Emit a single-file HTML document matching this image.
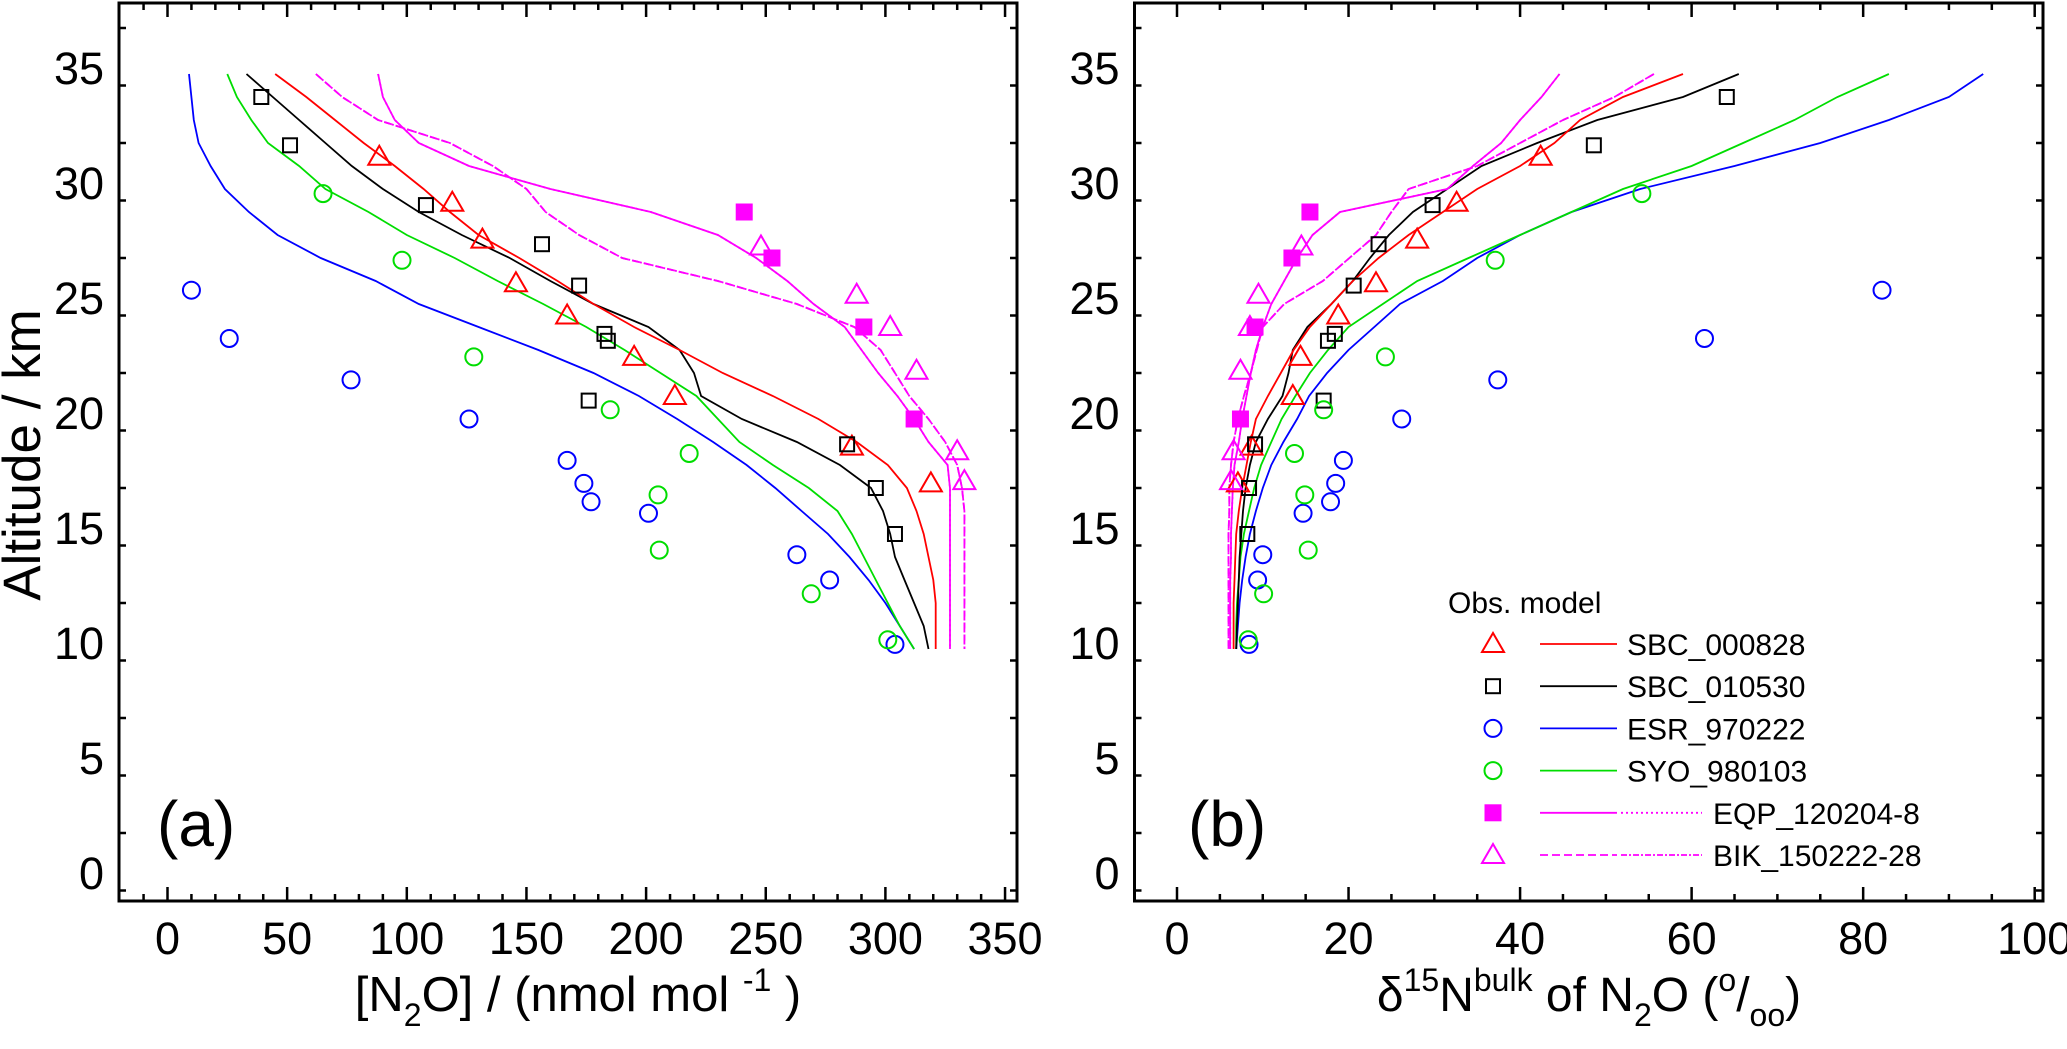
<!DOCTYPE html>
<html><head><meta charset="utf-8">
<style>
html,body{margin:0;padding:0;background:#fff;}
svg{display:block;font-family:"Liberation Sans",Arial,sans-serif;}
</style></head>
<body>
<svg id="chart" width="2067" height="1049" viewBox="0 0 2067 1049" xmlns="http://www.w3.org/2000/svg">
  <text x="0" y="0" transform="translate(40,455) rotate(-90)" text-anchor="middle" font-size="53">Altitude / km</text>
  <text x="578" y="1011" text-anchor="middle" font-size="49">[N<tspan font-size="32" dy="15">2</tspan><tspan dy="-15">O] / (nmol mol </tspan><tspan font-size="32" dy="-20">-1</tspan><tspan dy="20"> )</tspan></text>
  <text x="1589" y="1011" text-anchor="middle" font-size="48">δ<tspan font-size="32" dy="-20">15</tspan><tspan dy="20">N</tspan><tspan font-size="32" dy="-20">bulk</tspan><tspan dy="20"> of N</tspan><tspan font-size="32" dy="15">2</tspan><tspan dy="-15">O  (</tspan><tspan font-size="32" dy="-20">o</tspan><tspan dy="20">/</tspan><tspan font-size="32" dy="15">oo</tspan><tspan dy="-15">)</tspan></text>
  <text x="157" y="846" font-size="64">(a)</text>
  <text x="1188" y="846" font-size="64">(b)</text>
  <g id="legend" font-size="30">
    <text x="1448" y="613">Obs.  model</text>
  </g>
</svg>
<script>
// ---- data ----
const alts = [35,34,33,32,31,30,29,28,27,26,25,24,23,22,21,20,19,18,17,16,15,14,13,12,11,10];
// panel a model [N2O]
const aSBC000828 = [45,58,70,82,95,107,118,130,147,163,178,195,214,232,253,272,288,301,309,313,316,318,320,321,321,321];
const aSBC010530 = [33,44,55,66,77,90,105,123,143,160,178,201,214,220,223,240,263,281,294,299,302,304,308,312,316,318];
const aESR970222 = [9,10,11,13,18,24,34,46,64,87,105,130,155,178,197,213,228,242,254,265,276,285,293,300,306,312];
const aSYO980103 = [25,29,35,42,55,66,84,100,120,138,157,175,191,206,221,230,239,253,268,280,286,291,296,301,306,312];
const aEQP = [88,90,95,105,126,160,202,230,246,259,270,283,290,297,305,312,318,326,327,327,327,327,327,327,327,327];
const aBIK = [62,73,88,118,136,150,158,172,190,230,263,287,298,304,310,318,325,330,332,333,333,333,333,333,333,333];
// panel b model d15N
const bSBC000828 = [59,52,47,44,40,35,31,27,23.5,20.5,18,15.5,13.6,12.1,10.6,9.2,8.6,8.1,7.6,7.2,6.9,6.8,6.7,6.6,6.6,6.6];
const bSBC010530 = [65.5,59,49,42,35.5,31.5,27.5,24.7,22.5,20.5,18,15.2,13.5,13,12.3,10.6,9.2,8.5,8,7.7,7.5,7.3,7.2,7.1,7.0,6.9];
const bESR970222 = [94,90,83,75,65,54,46,40,35,31,26,23,20,17.5,15.4,14,12.4,11,10,9.2,8.5,8,7.6,7.3,7.1,6.9];
const bSYO980103 = [83,77,72,66,60,52,46,40,34,28,24,20,17.6,15.5,13.8,12.2,11,9.8,9,8.4,7.8,7.4,7.2,7.0,6.9,6.9];
const bEQP = [44.6,42.5,40,37.8,34.5,31.5,19,15.8,14,12.5,11,10,9.2,8.6,8.1,7.6,7.2,6.7,6.5,6.4,6.3,6.3,6.2,6.2,6.2,6.2];
const bBIK = [55.6,51,45,40,35,27,25,23.2,20.1,17,12.5,10,9.3,8.6,7.8,7.1,6.6,6.3,6.1,6.1,6.0,6.0,6.0,6.0,6.0,6.0];
// observations
const obsSBC000828Alt = [31.4,29.4,27.8,25.9,24.5,22.7,21.0,18.8,17.2];
const obsSBC000828A = [88.5,119,131.6,145.6,167,195,212,286,319];
const obsSBC000828B = [42.4,32.6,28,23.2,18.8,14.4,13.5,8.7,7.1];
const obsSBC010530Alt = [34.0,31.9,29.3,27.6,25.8,23.7,23.4,20.8,18.9,17.0,15.0];
const obsSBC010530A = [39.2,51.2,108,156.5,172,182.6,184,176,284,296,304];
const obsSBC010530B = [64.1,48.6,29.8,23.5,20.6,18.4,17.6,17.1,9.1,8.4,8.2];
const obsESR970222Alt = [25.6,23.5,21.7,20.0,18.2,17.2,16.4,15.9,14.1,13.0,10.2];
const obsESR970222A = [10,25.8,76.7,126,167,174,177,201,263,276.7,304];
const obsESR970222B = [82.2,61.5,37.4,26.2,19.4,18.5,17.9,14.7,10,9.4,8.4];
const obsSYO980103Alt = [29.8,26.9,22.7,20.4,18.5,16.7,14.3,12.4,10.4];
const obsSYO980103A = [65,98,128,185,218,205,205.5,269,301];
const obsSYO980103B = [54.2,37.1,24.3,17.1,13.7,14.9,15.3,10.1,8.3];
const obsEQPAlt = [29.0,27.0,24.0,20.0];
const obsEQPA = [241,252.6,291,312];
const obsEQPB = [15.5,13.4,9.1,7.4];
const obsBIKAlt = [27.5,25.4,24.0,22.1,18.6,17.3];
const obsBIKA = [248,288,302,313,330,333];
const obsBIKB = [14.5,9.5,8.5,7.4,6.6,6.3];
const yTicks = [0,5,10,15,20,25,30,35];
const xTicksA = [0,50,100,150,200,250,300,350];
const xTicksB = [0,20,40,60,80,100];

const NS = "http://www.w3.org/2000/svg";
const svg = document.getElementById('chart');
function el(tag, attrs, parent){const e=document.createElementNS(NS,tag);for(const k in attrs)e.setAttribute(k,attrs[k]);(parent||svg).appendChild(e);return e;}

const yScale = a => 879 - a*23.0;
const pa = {left:119,right:1017,top:3,bottom:901,x:v=>167.5+v*2.393,minor:10,ticks:xTicksA,name:'a'};
const pb = {left:1134.5,right:2043,top:3,bottom:901,x:v=>1177+v*8.577,minor:5,ticks:xTicksB,name:'b'};

const RED='#ff0000',BLK='#000000',BLU='#0000ff',GRN='#00dd00',MAG='#ff00ff';

function drawAxes(p){
  const g=el('g',{});
  
  
  const fr=el('rect',{x:p.left,y:p.top,width:p.right-p.left,height:p.bottom-p.top,fill:'none',stroke:'#000','stroke-width':3},g);
  
  
  for(let a=-0.5;a<=38;a+=2.5){
    const y=yScale(a); if(y<p.top+2||y>p.bottom-2) continue;
    const major = Math.abs(a%5)<1e-6; const L=major?14:7;
    el('line',{x1:p.left,x2:p.left+L,y1:y,y2:y,stroke:'#000','stroke-width':2.5},g);
    el('line',{x1:p.right,x2:p.right-L,y1:y,y2:y,stroke:'#000','stroke-width':2.5},g);
  }
  const lo=p.name==='a'?-20:-5, hi=p.name==='a'?360:105;
  for(let v=lo;v<=hi;v+=p.minor){
    const x=p.x(v); if(x<p.left+2||x>p.right-2) continue;
    const major = p.ticks.includes(v); const L=major?14:7;
    el('line',{x1:x,x2:x,y1:p.bottom,y2:p.bottom-L,stroke:'#000','stroke-width':2.5},g);
    el('line',{x1:x,x2:x,y1:p.top,y2:p.top+L,stroke:'#000','stroke-width':2.5},g);
  }
  yTicks.forEach(t=>{
    const tx=el('text',{x:p.left-15,y:yScale(t)+10,'text-anchor':'end','font-size':45},g);
    
    
    tx.textContent=t;
  });
  p.ticks.forEach(t=>{
    const tx=el('text',{x:p.x(t),y:954,'text-anchor':'middle','font-size':45},g);
    
    
    tx.textContent=t;
  });
}
function drawLine(p,vals,color,dash,name){
  const pts=vals.map((v,i)=>p.x(v).toFixed(1)+','+yScale(alts[i]).toFixed(1)).join(' ');
  const l=el('polyline',{points:pts,fill:'none',stroke:color,'stroke-width':1.8});
  if(dash) l.setAttribute('stroke-dasharray',dash);
  
  
}
function marker(x,y,type,color,parent){
  let m;
  if(type==='tri') m=el('polygon',{points:`${x},${y-11} ${x-11},${y+8} ${x+11},${y+8}`,fill:'none',stroke:color,'stroke-width':2},parent);
  else if(type==='sq') m=el('rect',{x:x-7,y:y-7,width:14,height:14,fill:'none',stroke:color,'stroke-width':2},parent);
  else if(type==='fsq') m=el('rect',{x:x-8,y:y-8,width:16,height:16,fill:color,stroke:color,'stroke-width':1},parent);
  else m=el('circle',{cx:x,cy:y,r:8.5,fill:'none',stroke:color,'stroke-width':2},parent);
  return m;
}
function drawObs(p,xs,as,type,color,name){
  const g=el('g',{});
  
  
  xs.forEach((v,i)=>{
    const m=marker(p.x(v),yScale(as[i]),type,color,g);
    
    
  });
}
drawAxes(pa); drawAxes(pb);

drawLine(pa,aESR970222,BLU,null,'model-esr-970222-a');
drawLine(pa,aSYO980103,GRN,null,'model-syo-980103-a');
drawLine(pa,aSBC010530,BLK,null,'model-sbc-010530-a');
drawLine(pa,aSBC000828,RED,null,'model-sbc-000828-a');
drawLine(pa,aEQP,MAG,null,'model-eqp-a');
drawLine(pa,aEQP,MAG,'2,3','model-eqp-dotted-a');
drawLine(pa,aBIK,MAG,'8,4','model-bik-dashed-a');
drawLine(pa,aBIK,MAG,'6,2,2,2','model-bik-dashdot-a');

drawLine(pb,bESR970222,BLU,null,'model-esr-970222-b');
drawLine(pb,bSYO980103,GRN,null,'model-syo-980103-b');
drawLine(pb,bSBC010530,BLK,null,'model-sbc-010530-b');
drawLine(pb,bSBC000828,RED,null,'model-sbc-000828-b');
drawLine(pb,bEQP,MAG,null,'model-eqp-b');
drawLine(pb,bEQP,MAG,'2,3','model-eqp-dotted-b');
drawLine(pb,bBIK,MAG,'8,4','model-bik-dashed-b');
drawLine(pb,bBIK,MAG,'6,2,2,2','model-bik-dashdot-b');

drawObs(pa,obsSBC000828A,obsSBC000828Alt,'tri',RED,'obs-sbc-000828-a');
drawObs(pa,obsSBC010530A,obsSBC010530Alt,'sq',BLK,'obs-sbc-010530-a');
drawObs(pa,obsESR970222A,obsESR970222Alt,'circ',BLU,'obs-esr-970222-a');
drawObs(pa,obsSYO980103A,obsSYO980103Alt,'circ',GRN,'obs-syo-980103-a');
drawObs(pa,obsEQPA,obsEQPAlt,'fsq',MAG,'obs-eqp-a');
drawObs(pa,obsBIKA,obsBIKAlt,'tri',MAG,'obs-bik-a');
drawObs(pb,obsSBC000828B,obsSBC000828Alt,'tri',RED,'obs-sbc-000828-b');
drawObs(pb,obsSBC010530B,obsSBC010530Alt,'sq',BLK,'obs-sbc-010530-b');
drawObs(pb,obsESR970222B,obsESR970222Alt,'circ',BLU,'obs-esr-970222-b');
drawObs(pb,obsSYO980103B,obsSYO980103Alt,'circ',GRN,'obs-syo-980103-b');
drawObs(pb,obsEQPB,obsEQPAlt,'fsq',MAG,'obs-eqp-b');
drawObs(pb,obsBIKB,obsBIKAlt,'tri',MAG,'obs-bik-b');

// legend
const leg=document.getElementById('legend');
const legendLabels=['SBC_000828','SBC_010530','ESR_970222','SYO_980103','EQP_120204-8','BIK_150222-28'];
const legendTypes=['tri','sq','circ','circ','fsq','tri'];
const legendColors=[RED,BLK,BLU,GRN,MAG,MAG];
legendLabels.forEach((lab,i)=>{
  const y=644+i*42.2;
  const g=el('g',{},leg);
  
  
  marker(1493,y,legendTypes[i],legendColors[i],g);
  if(i<4){
    el('line',{x1:1540,x2:1617,y1:y,y2:y,stroke:legendColors[i],'stroke-width':1.8},g);
    const t=el('text',{x:1627,y:y+11},g); t.textContent=lab;
  } else {
    const d1=i===4?null:'8,4', d2=i===4?'2,3':'6,2,2,2';
    const l1=el('line',{x1:1540,x2:1617,y1:y,y2:y,stroke:MAG,'stroke-width':1.8},g);
    if(d1) l1.setAttribute('stroke-dasharray',d1);
    el('line',{x1:1621,x2:1702,y1:y,y2:y,stroke:MAG,'stroke-width':1.8,'stroke-dasharray':d2},g);
    const t=el('text',{x:1713,y:y+11},g); t.textContent=lab;
  }
});
</script>
</body></html>
